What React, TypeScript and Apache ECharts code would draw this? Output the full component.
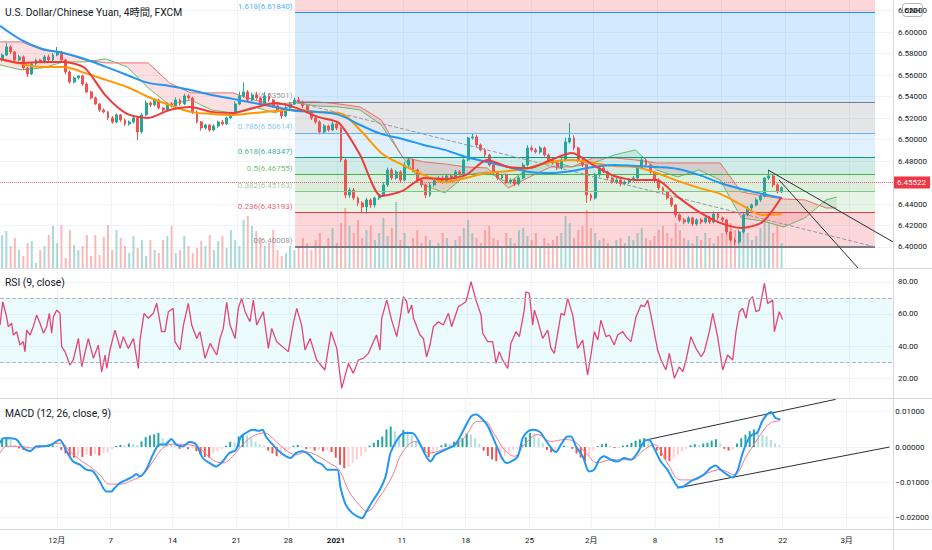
import React, { useEffect, useRef } from "react";
import * as echarts from "echarts";

const FONT = 'Roboto, "Noto Sans CJK JP", sans-serif';

const titleMain = "U.S. Dollar/Chinese Yuan, 4時間, FXCM";
const titleRsi = "RSI (9, close)";
const titleMacd = "MACD (12, 26, close, 9)";

// x is measured in 4-hour bars from the left edge of the chart
const dateTicks = [26.9, 52.4, 81.7, 111.9, 136.5, 159.1, 190.3, 220.5, 250.7, 280.0, 310.2, 340.4, 370.6, 400.9];
const dateLabels = ["12月", "7", "14", "21", "28", "2021", "11", "18", "25", "2月", "8", "15", "22", "3月"];

const priceTicks = [6.4, 6.42, 6.44, 6.46, 6.48, 6.5, 6.52, 6.54, 6.56, 6.58, 6.6, 6.62];
const rsiTicks = [20, 40, 60, 80];
const macdTicks = [-0.02, -0.01, 0, 0.01];

// candles: one candle per 2 bars
const firstOpen = 6.5742;
const closes = [
  6.5788, 6.5863, 6.5816, 6.5742, 6.577, 6.5667, 6.5611, 6.5705, 6.5742, 6.5723,
  6.577, 6.5742, 6.5788, 6.5816, 6.5742, 6.563, 6.5537, 6.5574, 6.5593, 6.5518,
  6.5444, 6.5388, 6.5332, 6.5276, 6.5258, 6.5202, 6.5164, 6.523, 6.5183, 6.5146,
  6.5164, 6.5202, 6.5071, 6.523, 6.5341, 6.5323, 6.5369, 6.5295, 6.5276, 6.5332,
  6.5313, 6.5369, 6.5332, 6.5407, 6.5388, 6.5258, 6.5164, 6.5108, 6.5136, 6.509,
  6.5127, 6.5164, 6.5146, 6.5202, 6.5239, 6.5332, 6.5407, 6.5444, 6.5369, 6.5416,
  6.5388, 6.5332, 6.5407, 6.5369, 6.5313, 6.5276, 6.522, 6.5295, 6.5332, 6.5369,
  6.5351, 6.5313, 6.5258, 6.5202, 6.5164, 6.5071, 6.5127, 6.509, 6.5146, 6.5108,
  6.481, 6.4484, 6.4531, 6.4456, 6.441, 6.4373, 6.4438, 6.4391, 6.4456, 6.4484,
  6.4578, 6.4717, 6.4643, 6.4699, 6.4624, 6.4764, 6.481, 6.4717, 6.4624, 6.4578,
  6.4484, 6.4578, 6.4624, 6.4643, 6.4605, 6.4661, 6.4643, 6.4699, 6.468, 6.481,
  6.5015, 6.5025, 6.495, 6.4904, 6.4857, 6.4764, 6.4699, 6.4643, 6.4671, 6.4605,
  6.4624, 6.4587, 6.4643, 6.4764, 6.4922, 6.4904, 6.4885, 6.4922, 6.4857, 6.481,
  6.4782, 6.4736, 6.481, 6.4978, 6.5015, 6.4922, 6.481, 6.4764, 6.4484, 6.4456,
  6.4671, 6.4736, 6.4699, 6.4643, 6.4605, 6.4624, 6.4587, 6.4605, 6.4624, 6.4643,
  6.4736, 6.481, 6.4764, 6.4699, 6.4624, 6.455, 6.4512, 6.4456, 6.4391, 6.4298,
  6.4252, 6.4233, 6.427, 6.4214, 6.4252, 6.4233, 6.427, 6.4233, 6.4307, 6.427,
  6.4252, 6.414, 6.4065, 6.4047, 6.414, 6.4298, 6.4363, 6.4391, 6.4438, 6.4475,
  6.4643, 6.4661, 6.4578, 6.4512, 6.45522,
];
const upperWickPips = [
  12, 37, 15, 10, 20, 14, 8, 18, 12, 10,
  15, 20, 18, 47, 12, 10, 15, 14, 9, 12,
  16, 10, 12, 8, 14, 10, 18, 12, 9, 15,
  14, 20, 10, 18, 22, 15, 18, 12, 10, 14,
  18, 25, 12, 20, 15, 10, 14, 9, 12, 10,
  15, 12, 18, 14, 20, 25, 40, 90, 18, 22,
  30, 12, 35, 18, 10, 14, 12, 20, 18, 22,
  28, 14, 10, 12, 9, 16, 18, 12, 20, 14,
  10, 15, 22, 18, 12, 14, 20, 16, 12, 18,
  25, 22, 18, 20, 14, 28, 20, 15, 12, 10,
  14, 22, 18, 16, 20, 15, 12, 20, 18, 15,
  10, 37, 20, 14, 16, 12, 18, 10, 14, 12,
  16, 12, 18, 20, 25, 22, 18, 20, 14, 12,
  15, 18, 20, 40, 140, 25, 12, 14, 10, 16,
  20, 18, 22, 12, 14, 18, 12, 16, 14, 18,
  25, 30, 14, 12, 10, 14, 12, 10, 12, 8,
  14, 18, 16, 12, 15, 18, 14, 20, 22, 16,
  14, 10, 12, 18, 20, 22, 18, 14, 20, 16,
  5, 56, 20, 15, 12,
];
const lowerWickPips = [
  15, 10, 18, 12, 14, 20, 28, 10, 15, 12,
  14, 10, 16, 12, 18, 22, 15, 12, 14, 18,
  12, 15, 10, 18, 14, 20, 16, 12, 18, 22,
  15, 12, 74, 14, 10, 18, 12, 15, 20, 12,
  14, 10, 18, 12, 16, 20, 14, 25, 15, 18,
  12, 16, 14, 10, 12, 15, 12, 20, 14, 12,
  18, 22, 12, 16, 20, 14, 25, 12, 16, 10,
  12, 18, 14, 20, 16, 22, 14, 18, 12, 20,
  20, 30, 25, 20, 28, 47, 65, 30, 22, 18,
  14, 18, 20, 16, 22, 12, 18, 20, 25, 22,
  30, 18, 14, 20, 16, 14, 18, 12, 16, 14,
  12, 15, 18, 14, 20, 16, 18, 22, 14, 20,
  18, 22, 16, 12, 14, 18, 15, 20, 16, 18,
  14, 20, 16, 12, 15, 18, 22, 20, 74, 30,
  15, 18, 14, 20, 16, 18, 22, 14, 20, 16,
  12, 14, 18, 16, 20, 18, 22, 16, 20, 25,
  18, 22, 16, 20, 18, 22, 16, 20, 14, 18,
  20, 25, 22, 28, 18, 16, 14, 18, 12, 20,
  14, 18, 22, 15, 10,
];
const volumes = [
  33, 37, 22, 30, 18, 12, 25, 27, 5, 18,
  22, 33, 42, 25, 43, 10, 38, 23, 18, 22,
  33, 12, 33, 13, 31, 43, 18, 38, 30, 22,
  15, 32, 20, 28, 12, 28, 18, 15, 28, 32,
  42, 15, 18, 32, 22, 15, 20, 27, 22, 33,
  18, 27, 32, 20, 38, 28, 22, 48, 52, 42,
  37, 30, 22, 25, 38, 18, 12, 15, 22, 18,
  20, 30, 25, 18, 28, 35, 22, 30, 40, 25,
  45, 60, 42, 35, 48, 30, 38, 42, 28, 35,
  50, 32, 40, 66, 28, 35, 22, 30, 38, 25,
  32, 28, 20, 25, 35, 30, 22, 28, 32, 40,
  48, 35, 30, 25, 38, 42, 30, 28, 22, 35,
  30, 25, 38, 40, 32, 28, 35, 22, 30, 25,
  28, 32, 35, 52, 45, 30, 38, 42, 58, 40,
  35, 28, 30, 25, 22, 28, 30, 25, 32, 28,
  35, 40, 30, 28, 32, 38, 42, 35, 30, 45,
  38, 30, 28, 25, 32, 28, 35, 30, 25, 32,
  35, 40, 45, 38, 30, 42, 35, 28, 32, 40,
  50, 45, 35, 43, 25,
];
const macdHist = [
  0.0025, 0.0028, 0.002, 0.0006, -0.0004, -0.0008, -0.0005, -0.0001, 0.0002, 0.0004,
  0.0003, 0.0004, 0.0005, 0.0003, -0.0008, -0.0018, -0.0026, -0.003, -0.0027, -0.0028,
  -0.0022, -0.0025, -0.002, -0.0024, -0.0018, -0.0015, -0.0006, 0.0003, 0.0006, 0.0005,
  0.001, 0.0008, 0.0006, 0.0016, 0.0028, 0.0033, 0.0036, 0.004, 0.0025, 0.0018,
  0.001, 0.0004, -0.0005, -0.0003, -0.0006, -0.0004, -0.0012, -0.0022, -0.0028, -0.003,
  -0.0018, -0.0012, -0.0006, 0.0004, 0.0015, 0.0013, 0.003, 0.0036, 0.0034, 0.0025,
  0.0015, 0.0008, 0.0004, -0.001, -0.0018, -0.0026, -0.0025, -0.0015, -0.0008, 0.0004,
  0.0006, 0.0002, -0.0006, -0.0005, -0.001, -0.0008, -0.0012, -0.0009, -0.0014, -0.003,
  -0.005, -0.006, -0.0055, -0.0045, -0.0035, -0.0026, -0.0015, 0.0004, 0.0012, 0.002,
  0.003, 0.005, 0.0058, 0.0045, 0.003, 0.0048, 0.0045, 0.0035, 0.0018, 0.0008,
  -0.0015, -0.0028, -0.002, -0.0008, 0.0005, 0.001, 0.0008, 0.0015, 0.0018, 0.0025,
  0.0038, 0.0035, 0.0025, 0.001, -0.001, -0.0025, -0.0035, -0.004, -0.0036, -0.0025,
  -0.0015, -0.0008, -0.0005, 0.001, 0.0028, 0.004, 0.0038, 0.0025, 0.0012, -0.0008,
  -0.0015, -0.0012, -0.0004, 0.0004, 0.0002, -0.0005, -0.0018, -0.003, -0.004, -0.0025,
  -0.001, 0.0003, 0.0008, 0.001, 0.0004, -0.0003, -0.0002, 0.0004, 0.0006, 0.0012,
  0.0018, 0.0022, 0.0025, 0.0018, 0.0006, -0.001, -0.0025, -0.0035, -0.004, -0.0032,
  -0.0022, -0.0012, -0.0005, 0.0005, 0.0008, 0.0006, 0.001, 0.0012, 0.0018, 0.0022,
  0.001, -0.0005, -0.001, -0.0008, 0.001, 0.0025, 0.0035, 0.0045, 0.005, 0.0042,
  0.0035, 0.003, 0.002, 0.001, 0.0005,
];

// moving averages sampled every 10 bars
const maStepBars = 10;
const maRed = [
  6.5751, 6.5714, 6.5723, 6.5723, 6.5667, 6.5407, 6.5239, 6.5202, 6.5276, 6.5304,
  6.5258, 6.5248, 6.5295, 6.5341, 6.5295, 6.5211, 6.5155, 6.4857, 6.4475, 6.4522,
  6.4643, 6.4633, 6.4671, 6.481, 6.4745, 6.4736, 6.481, 6.4876, 6.4764, 6.4661,
  6.4624, 6.4624, 6.4466, 6.4326, 6.4224, 6.4177, 6.4233, 6.4466,
];
const maOrange = [
  6.5751, 6.5705, 6.5677, 6.5677, 6.5621, 6.5556, 6.549, 6.5397, 6.5323, 6.5258,
  6.5239, 6.523, 6.5248, 6.5267, 6.5276, 6.5258, 6.5248, 6.509, 6.4876, 6.4764,
  6.4671, 6.4605, 6.4643, 6.4689, 6.4708, 6.4736, 6.4792, 6.481, 6.4782, 6.4755,
  6.4745, 6.4689, 6.4615, 6.455, 6.4494, 6.4391, 6.4298, 6.4307,
];
const maBlue = [
  6.6059, 6.5928, 6.5844, 6.5807, 6.5751, 6.5677, 6.5602, 6.5528, 6.55, 6.5462,
  6.5416, 6.5379, 6.5341, 6.5304, 6.5267, 6.5258, 6.523, 6.5136, 6.5053, 6.5006,
  6.495, 6.4904, 6.4838, 6.4792, 6.4745, 6.4699, 6.4689, 6.4708, 6.4745, 6.4764,
  6.4755, 6.4745, 6.4727, 6.4671, 6.4596, 6.454, 6.4494, 6.4456,
];
// ichimoku cloud spans, every 10 bars, last point at cloudEndBar
const spanA = [
  6.5695, 6.5649, 6.5667, 6.5723, 6.5723, 6.5751, 6.5677, 6.5481, 6.5323, 6.5369,
  6.5276, 6.5248, 6.5304, 6.5248, 6.5341, 6.5313, 6.5304, 6.5276, 6.5136, 6.4838,
  6.4578, 6.4503, 6.4671, 6.4699, 6.4596, 6.4745, 6.4801, 6.4745, 6.4782, 6.4857,
  6.4904, 6.4717, 6.4652, 6.4717, 6.4624, 6.427, 6.4242, 6.4186, 6.427, 6.4438,
  6.4466,
];
const spanB = [
  6.591, 6.591, 6.5835, 6.5807, 6.5742, 6.5714, 6.5714, 6.5714, 6.5528, 6.5435,
  6.5435, 6.5435, 6.5369, 6.5323, 6.5351, 6.5351, 6.5332, 6.5304, 6.5183, 6.4838,
  6.4792, 6.4773, 6.4745, 6.4736, 6.455, 6.4652, 6.4745, 6.4745, 6.4829, 6.4829,
  6.481, 6.4782, 6.4782, 6.4782, 6.4782, 6.4512, 6.4475, 6.4447, 6.4438, 6.4363,
  6.4363,
];
const cloudEndBar = 395;

const rsiPoints = [
  [0, 53.1], [1.3, 67.6], [3.1, 58.3], [3.9, 52.1], [5.5, 54.2], [6.3, 46.9], [7.9, 49.0], [9.4, 40.7], [11.0, 42.8], [11.8, 36.5],
  [12.6, 50.0], [14.2, 46.9], [15.7, 52.1], [17.3, 59.3], [18.9, 54.2], [20.5, 48.0], [22.0, 52.1], [23.3, 60.4], [24.4, 48.0], [25.2, 58.3],
  [26.8, 62.4], [28.3, 60.4], [29.1, 39.7], [30.7, 36.6], [33.0, 28.3], [34.6, 31.4], [37.0, 44.8], [38.6, 27.2], [41.7, 44.8], [44.1, 32.4],
  [46.4, 40.7], [48.0, 24.1], [49.6, 34.5], [50.4, 26.2], [51.9, 37.6], [54.3, 50.0], [56.7, 38.6], [58.2, 45.9], [60.6, 38.6], [63.0, 44.8],
  [65.3, 26.2], [66.1, 43.8], [68.0, 60.4], [70.0, 57.3], [72.4, 60.4], [74.0, 66.6], [76.3, 49.0], [77.9, 49.0], [79.5, 61.4], [81.8, 63.5],
  [82.6, 42.8], [85.0, 37.6], [86.6, 53.1], [88.9, 66.6], [90.5, 53.1], [92.9, 44.8], [94.4, 49.0], [96.8, 32.4], [99.2, 41.7], [102.3, 34.5],
  [103.9, 44.8], [105.4, 51.0], [107.0, 67.2], [108.6, 53.1], [111.0, 44.8], [112.5, 63.5], [114.1, 69.7], [115.7, 61.4], [118.0, 55.2], [119.6, 68.6],
  [121.2, 53.1], [124.3, 61.4], [126.7, 38.6], [128.3, 51.0], [130.6, 42.8], [136.1, 36.6], [138.5, 54.2], [140.1, 63.5], [142.4, 53.1], [144.0, 37.6],
  [146.4, 44.8], [149.5, 31.4], [153.4, 25.2], [156.3, 49.0], [159.0, 38.6], [161.3, 13.8], [164.5, 29.3], [166.8, 23.1], [169.2, 31.4], [171.5, 32.4],
  [173.9, 35.5], [176.3, 42.8], [177.8, 46.9], [179.4, 37.6], [180.2, 57.3], [182.6, 68.6], [184.9, 56.2], [187.3, 45.9], [188.9, 57.3], [190.4, 70.7],
  [192.0, 67.6], [192.8, 60.4], [194.4, 65.5], [195.2, 57.3], [198.3, 46.9], [199.9, 44.8], [201.4, 33.4], [203.0, 40.7], [204.6, 52.1], [207.0, 55.2],
  [209.3, 53.1], [211.7, 60.4], [213.2, 52.1], [216.4, 64.5], [220.0, 67.6], [222.4, 80.0], [224.7, 68.6], [227.1, 59.3], [227.9, 48.0], [230.2, 42.8],
  [232.6, 42.8], [234.2, 29.3], [235.7, 36.6], [237.3, 31.4], [239.7, 26.2], [241.2, 41.7], [243.6, 49.0], [245.2, 45.9], [247.5, 62.4], [248.3, 73.8],
  [249.9, 72.8], [251.5, 53.1], [252.3, 62.4], [253.8, 56.2], [256.2, 44.8], [258.6, 50.0], [260.1, 38.6], [261.7, 35.5], [264.9, 60.4], [266.4, 59.3],
  [268.0, 69.7], [270.4, 59.3], [272.7, 38.6], [275.1, 43.8], [277.4, 22.1], [279.0, 34.5], [280.6, 49.0], [282.2, 43.8], [283.7, 56.2], [286.1, 45.9],
  [287.7, 46.9], [290.0, 40.7], [291.6, 46.9], [294.0, 49.0], [295.5, 45.9], [297.9, 42.8], [300.3, 58.3], [302.6, 65.5], [304.2, 64.5], [305.8, 68.6],
  [307.3, 59.3], [310.5, 37.6], [312.1, 31.4], [314.4, 25.2], [316.0, 35.5], [318.4, 20.0], [320.7, 27.2], [322.3, 24.1], [323.9, 31.4], [326.2, 45.9],
  [328.6, 38.6], [331.0, 33.4], [332.5, 36.6], [334.9, 49.0], [336.5, 60.4], [338.8, 45.9], [341.2, 25.2], [343.5, 34.5], [345.9, 31.4], [347.5, 49.0],
  [349.1, 61.4], [350.6, 63.5], [352.2, 57.3], [353.8, 68.6], [355.3, 70.7], [356.9, 61.4], [358.5, 62.4], [360.9, 79.0], [362.4, 66.6], [364.8, 68.6],
  [365.6, 49.0], [367.9, 61.4], [369.5, 56.6],
];

const macdLine = [
  [0, 0.0011], [1.6, 0.0025], [4.7, 0.0025], [7.9, 0.0021], [11.0, -0.0003], [14.2, -0.0012], [17.3, 0.0002], [20.5, 0.0002], [23.6, 0.0005], [26.8, 0.0016],
  [28.3, 0.0021], [31.5, -0.0012], [34.6, -0.0041], [37.8, -0.005], [40.9, -0.0064], [44.1, -0.0069], [47.2, -0.0097], [50.4, -0.0126], [52.7, -0.0126], [54.3, -0.0116],
  [56.7, -0.0102], [59.8, -0.0093], [63.0, -0.0083], [64.5, -0.0076], [66.1, -0.0083], [69.2, -0.0064], [72.4, -0.0022], [75.5, 0.0007], [78.7, 0.0008], [81.1, 0.0023],
  [83.4, 0.0007], [86.6, 0.0002], [89.7, 0.0014], [92.9, 0.0007], [96.0, -0.0031], [99.2, -0.0045], [102.3, -0.0055], [105.4, -0.0041], [108.6, -0.0017], [111.7, -0.0008],
  [114.1, 0.003], [116.5, 0.004], [119.6, 0.0049], [122.8, 0.0046], [124.3, 0.0049], [125.9, 0.003], [129.1, 0.0007], [132.2, -0.0012], [135.3, -0.0026], [137.7, -0.0031],
  [140.1, -0.0017], [143.2, -0.0012], [146.4, -0.0022], [149.5, -0.0041], [152.7, -0.005], [155.0, -0.0064], [157.4, -0.0064], [159.7, -0.0064], [161.3, -0.0116], [163.7, -0.0163],
  [166.8, -0.0187], [169.2, -0.0196], [171.5, -0.0201], [173.1, -0.0187], [176.3, -0.0154], [179.4, -0.0126], [182.6, -0.0083], [184.9, -0.0017], [188.1, 0.0021], [191.2, 0.004],
  [195.2, 0.004], [198.3, 0.0016], [201.4, -0.0022], [203.8, -0.0041], [206.2, -0.0022], [209.3, -0.0012], [212.5, -0.0003], [215.6, 0.0007], [218.8, 0.004], [220.0, 0.0054],
  [223.1, 0.0087], [225.5, 0.0092], [227.9, 0.0082], [231.0, 0.0059], [234.2, 0.0016], [237.3, -0.0026], [239.7, -0.0045], [242.0, -0.0041], [245.2, -0.0026], [247.5, 0.0025],
  [249.9, 0.0044], [252.3, 0.0049], [255.4, 0.0044], [257.8, 0.0025], [261.7, -0.0008], [263.3, -0.0014], [265.6, 0.0007], [268.8, 0.003], [270.4, 0.003], [272.7, 0.0002],
  [275.9, -0.0026], [279.0, -0.0069], [281.4, -0.0064], [283.7, -0.0036], [286.1, -0.0026], [289.2, -0.0036], [292.4, -0.0041], [295.5, -0.0031], [298.7, -0.0036], [301.8, -0.0017],
  [305.0, 0.0016], [307.3, 0.0021], [309.7, -0.0003], [312.9, -0.0041], [316.0, -0.0064], [319.2, -0.0097], [321.5, -0.0114], [323.9, -0.0111], [327.0, -0.0097], [330.2, -0.0088],
  [333.3, -0.0078], [336.5, -0.0059], [338.8, -0.0052], [341.2, -0.0064], [344.3, -0.0078], [346.7, -0.0086], [349.1, -0.0069], [351.4, -0.0022], [353.8, 0.0016], [356.1, 0.0035],
  [358.5, 0.004], [360.9, 0.0073], [363.2, 0.0092], [365.1, 0.0099], [367.2, 0.0082], [369.5, 0.0079],
];
const signalLine = [
  [0, -0.0017], [3.1, 0.0002], [9.4, 0.0002], [15.7, -0.0003], [23.6, 0.0007], [29.1, 0.0011], [33.0, -0.0012], [37.8, -0.0036], [42.5, -0.0055], [47.2, -0.0078],
  [51.9, -0.0105], [56.7, -0.0105], [63.0, -0.0093], [67.7, -0.0078], [72.4, -0.0041], [77.1, -0.0003], [81.8, 0.0008], [88.1, 0.0007], [94.4, -0.0003], [100.7, -0.0036],
  [105.4, -0.0045], [110.2, -0.0026], [114.9, 0.0007], [119.6, 0.003], [125.1, 0.004], [130.6, 0.0016], [135.3, -0.0008], [140.1, -0.0022], [144.8, -0.0014], [149.5, -0.0022],
  [155.8, -0.0045], [160.5, -0.0064], [165.3, -0.0126], [170.0, -0.0163], [173.9, -0.0182], [179.4, -0.0144], [185.7, -0.0083], [190.4, -0.0017], [196.7, 0.0016], [203.0, -0.0017],
  [209.3, -0.0008], [215.6, 0.0007], [220.0, 0.0028], [226.3, 0.0073], [229.4, 0.0073], [234.2, 0.0035], [238.9, -0.0008], [243.6, -0.0026], [248.3, 0.0007], [254.6, 0.0035],
  [260.9, 0.0016], [267.2, 0.0021], [271.9, 0.0016], [278.2, -0.0022], [283.0, -0.0045], [289.2, -0.0036], [298.7, -0.0036], [305.0, -0.0008], [309.7, 0.0007], [316.0, -0.0045],
  [322.3, -0.0093], [328.6, -0.0093], [334.9, -0.0074], [341.2, -0.0064], [347.5, -0.0078], [353.8, -0.0022], [360.1, 0.0035], [364.8, 0.0068], [369.5, 0.0074],
];

const fibRatios = ["0", "0.236", "0.382", "0.5", "0.618", "0.786", "1", "1.618"];
const fibPrices = [6.40008, 6.43193, 6.45163, 6.46755, 6.48347, 6.50614, 6.53501, 6.6184];
const fibColors = ["#787b86", "#f23645", "#81c784", "#4caf50", "#089981", "#64b5f6", "#787b86", "#2196f3"];
const fibTopColor = "#f23645";
const fibStartBar = 139.3;
const fibEndBar = 413.1;

const trendMain = [
  [[362.6, 6.4717], [421.6, 6.4047]],
  [[367.8, 6.4624], [405.1, 6.3804]],
];
const trendMacd = [
  [[307.4, 0.0022], [395.7, 0.0135]],
  [[320.6, -0.0116], [421.2, 0.0]],
];

const X_MAX = 421.6;
const PRICE_MIN = 6.3804;
const PRICE_MAX = 6.63;

const UP = "#26a69a";
const DOWN = "#ef5350";
const TXT = "#131722";
const GRIDLINE = "#f0f3fa";
const CLOUD_UP = "rgba(76,175,80,0.16)";
const CLOUD_DOWN = "rgba(242,54,69,0.16)";

function rgba(hex: string, a: number) {
  const n = parseInt(hex.slice(1), 16);
  return `rgba(${(n >> 16) & 255},${(n >> 8) & 255},${n & 255},${a})`;
}

function buildOption() {
  const barOf = (i: number) => 2 * i + 1;
  const candleData = closes.map((c, i) => {
    const o = i === 0 ? firstOpen : closes[i - 1];
    const hi = Math.max(o, c) + upperWickPips[i] * 1e-4;
    const lo = Math.min(o, c) - lowerWickPips[i] * 1e-4;
    return [barOf(i), o, c, lo, hi];
  });
  const volData = volumes.map((v, i) => {
    const o = i === 0 ? firstOpen : closes[i - 1];
    const up = closes[i] >= o;
    return { value: [barOf(i), v], itemStyle: { color: up ? rgba(UP, 0.4) : rgba(DOWN, 0.4) } };
  });
  const histData = macdHist.map((h, i) => {
    const prev = i === 0 ? h : macdHist[i - 1];
    let color;
    if (h >= 0) color = h >= prev ? UP : "#b2dfdb";
    else color = h <= prev ? DOWN : "#ffcdd2";
    return { value: [barOf(i), h], itemStyle: { color } };
  });
  const lastBar = barOf(closes.length - 1);
  const maPts = (arr: number[]) => arr.map((v, k) => [Math.min(k * maStepBars, lastBar), v]);
  const cloudBar = (k: number) => (k === spanA.length - 1 ? cloudEndBar : k * maStepBars);
  const lastClose = closes[closes.length - 1];
  const cloudSegs = spanA.slice(0, -1).map((a, k) => [cloudBar(k), a, spanB[k], cloudBar(k + 1), spanA[k + 1], spanB[k + 1]]);

  const fibBands: any[] = [];
  for (let i = 0; i < fibPrices.length - 1; i++) {
    fibBands.push([
      { coord: [fibStartBar, fibPrices[i]], itemStyle: { color: rgba(fibColors[i + 1], 0.2) } },
      { coord: [fibEndBar, fibPrices[i + 1]] },
    ]);
  }
  fibBands.push([
    { coord: [fibStartBar, fibPrices[fibPrices.length - 1]], itemStyle: { color: rgba(fibTopColor, 0.2) } },
    { coord: [fibEndBar, PRICE_MAX] },
  ]);
  const fibLines: any[] = fibPrices.map((p, i) => [
    { coord: [fibStartBar, p], lineStyle: { color: fibColors[i], width: i === 0 ? 2 : 1, type: "solid" } },
    { coord: [fibEndBar, p] },
  ]);
  fibLines.push([
    { coord: [fibStartBar, fibPrices[6]], lineStyle: { color: "#9598a1", width: 1, type: "dashed" } },
    { coord: [fibEndBar, fibPrices[0]] },
  ]);

  const xBase = (gridIndex: number, split: boolean) => ({
    type: "value",
    gridIndex,
    min: 0,
    max: X_MAX,
    axisLine: { show: false },
    axisTick: { show: false, customValues: dateTicks },
    axisLabel: { show: false, customValues: dateTicks },
    splitLine: { show: split, lineStyle: { color: GRIDLINE, width: 1 } },
  });
  const yLabel = (fmt: (v: number) => string) => ({
    show: true,
    color: TXT,
    fontSize: 8,
    fontFamily: FONT,
    margin: 5,
    formatter: fmt,
  });

  const xMacd: any = xBase(3, true);
  xMacd.axisLabel = {
    show: true,
    customValues: dateTicks,
    color: TXT,
    fontSize: 8,
    fontFamily: FONT,
    margin: 7,
    formatter: (v: number) => {
      let idx = 0;
      let best = Infinity;
      dateTicks.forEach((t, i) => {
        if (Math.abs(t - v) < best) {
          best = Math.abs(t - v);
          idx = i;
        }
      });
      const s = dateLabels[idx];
      return s === "2021" ? `{b|${s}}` : s;
    },
    rich: { b: { fontWeight: "bold", fontSize: 8, color: TXT, fontFamily: FONT } },
  };

  const noLine = { opacity: 0, width: 0 };
  const titleStyle = { fontSize: 10.3, fontWeight: "normal", color: TXT, fontFamily: FONT };

  return {
    animation: false,
    backgroundColor: "#ffffff",
    textStyle: { fontFamily: FONT },
    title: [
      { text: titleMain, left: 5, top: 7, padding: 0, textStyle: titleStyle, z: 20 },
      { text: titleRsi, left: 5, top: 277, padding: 0, textStyle: titleStyle, z: 20 },
      { text: titleMacd, left: 5, top: 408, padding: 0, textStyle: titleStyle, z: 20 },
    ],
    grid: [
      { left: 0, top: 0, width: 893, height: 268 },
      { left: 0, top: 188, width: 893, height: 80 },
      { left: 0, top: 270, width: 893, height: 128 },
      { left: 0, top: 399, width: 893, height: 130 },
    ],
    xAxis: [xBase(0, true), xBase(1, false), xBase(2, true), xMacd],
    yAxis: [
      {
        type: "value",
        gridIndex: 0,
        position: "right",
        min: PRICE_MIN,
        max: PRICE_MAX,
        axisLine: { show: false },
        axisTick: { show: false, customValues: priceTicks },
        axisLabel: { ...yLabel((v: number) => v.toFixed(5)), customValues: priceTicks },
        splitLine: { show: true, lineStyle: { color: GRIDLINE } },
      },
      {
        type: "value",
        gridIndex: 1,
        min: 0,
        max: 80,
        show: false,
        splitLine: { show: false },
      },
      {
        type: "value",
        gridIndex: 2,
        position: "right",
        min: 7.8,
        max: 87.3,
        axisLine: { show: false },
        axisTick: { show: false, customValues: rsiTicks },
        axisLabel: { ...yLabel((v: number) => v.toFixed(2)), customValues: rsiTicks },
        splitLine: { show: true, lineStyle: { color: GRIDLINE } },
      },
      {
        type: "value",
        gridIndex: 3,
        position: "right",
        min: -0.0232,
        max: 0.0136,
        axisLine: { show: false },
        axisTick: { show: false, customValues: macdTicks },
        axisLabel: {
          ...yLabel((v: number) => (v < -1e-9 ? "\u2212" : "") + Math.abs(v).toFixed(5)),
          customValues: macdTicks,
        },
        splitLine: { show: true, lineStyle: { color: GRIDLINE } },
      },
    ],
    series: [
      {
        name: "fib",
        type: "line",
        xAxisIndex: 0,
        yAxisIndex: 0,
        data: [[fibStartBar, fibPrices[0]]],
        symbol: "none",
        lineStyle: noLine,
        silent: true,
        z: 1,
        markArea: { silent: true, data: fibBands },
        markLine: { silent: true, symbol: ["none", "none"], label: { show: false }, data: fibLines },
      },
      {
        name: "cloud",
        type: "custom",
        xAxisIndex: 0,
        yAxisIndex: 0,
        silent: true,
        z: 2,
        encode: { x: [0, 3], y: [1, 2, 4, 5] },
        data: cloudSegs,
        renderItem: (_params: any, api: any) => {
          const x0 = api.value(0);
          const a0 = api.value(1);
          const b0 = api.value(2);
          const x1 = api.value(3);
          const a1 = api.value(4);
          const b1 = api.value(5);
          const d0 = a0 - b0;
          const d1 = a1 - b1;
          const P = (x: number, y: number) => api.coord([x, y]);
          const children: any[] = [];
          if (d0 * d1 >= 0) {
            children.push({
              type: "polygon",
              shape: { points: [P(x0, a0), P(x1, a1), P(x1, b1), P(x0, b0)] },
              style: { fill: d0 + d1 >= 0 ? CLOUD_UP : CLOUD_DOWN },
            });
          } else {
            const t = d0 / (d0 - d1);
            const xc = x0 + t * (x1 - x0);
            const yc = a0 + t * (a1 - a0);
            children.push({
              type: "polygon",
              shape: { points: [P(x0, a0), P(xc, yc), P(x0, b0)] },
              style: { fill: d0 > 0 ? CLOUD_UP : CLOUD_DOWN },
            });
            children.push({
              type: "polygon",
              shape: { points: [P(xc, yc), P(x1, a1), P(x1, b1)] },
              style: { fill: d1 > 0 ? CLOUD_UP : CLOUD_DOWN },
            });
          }
          return { type: "group", children };
        },
      },
      {
        name: "volume",
        type: "bar",
        xAxisIndex: 1,
        yAxisIndex: 1,
        barWidth: 2,
        silent: true,
        z: 2,
        data: volData,
      },
      {
        name: "spanA",
        type: "line",
        xAxisIndex: 0,
        yAxisIndex: 0,
        symbol: "none",
        silent: true,
        z: 3,
        lineStyle: { color: "#66bb6a", width: 1 },
        data: spanA.map((a, k) => [cloudBar(k), a]),
      },
      {
        name: "spanB",
        type: "line",
        xAxisIndex: 0,
        yAxisIndex: 0,
        symbol: "none",
        silent: true,
        z: 3,
        lineStyle: { color: "#f26b6b", width: 1 },
        data: spanB.map((b, k) => [cloudBar(k), b]),
      },
      {
        name: "candles",
        type: "candlestick",
        xAxisIndex: 0,
        yAxisIndex: 0,
        barWidth: 2.4,
        silent: true,
        z: 4,
        encode: { x: 0, y: [1, 2, 3, 4] },
        itemStyle: { color: UP, color0: DOWN, borderColor: UP, borderColor0: DOWN, borderWidth: 1 },
        data: candleData,
        markLine: {
          silent: true,
          symbol: ["none", "none"],
          data: [
            {
              yAxis: lastClose,
              lineStyle: { color: "rgba(242,54,69,0.7)", type: "dotted", width: 1 },
              label: {
                show: true,
                position: "end",
                distance: 0,
                formatter: lastClose.toFixed(5),
                color: "#ffffff",
                backgroundColor: "#f23645",
                padding: [2, 4, 2, 4],
                fontSize: 8,
                fontFamily: FONT,
              },
            },
            ...trendMain.map((seg) => [
              { coord: seg[0], lineStyle: { color: "#2a2e39", width: 1, type: "solid" }, label: { show: false } },
              { coord: seg[1] },
            ]),
          ],
        },
      },
      {
        name: "maOrange",
        type: "line",
        xAxisIndex: 0,
        yAxisIndex: 0,
        symbol: "none",
        smooth: 0.35,
        silent: true,
        z: 5,
        lineStyle: { color: "#ff9800", width: 2 },
        data: maPts(maOrange),
      },
      {
        name: "maBlue",
        type: "line",
        xAxisIndex: 0,
        yAxisIndex: 0,
        symbol: "none",
        smooth: 0.35,
        silent: true,
        z: 5,
        lineStyle: { color: "#2196f3", width: 2 },
        data: maPts(maBlue),
      },
      {
        name: "maRed",
        type: "line",
        xAxisIndex: 0,
        yAxisIndex: 0,
        symbol: "none",
        smooth: 0.25,
        silent: true,
        z: 5,
        lineStyle: { color: "#f03a3a", width: 2 },
        data: maPts(maRed),
      },
      {
        name: "fibLabels",
        type: "scatter",
        xAxisIndex: 0,
        yAxisIndex: 0,
        symbolSize: 1,
        itemStyle: { color: "rgba(0,0,0,0)" },
        silent: true,
        z: 8,
        data: fibPrices.map((p, i) => ({
          value: [fibStartBar, p],
          label: {
            show: true,
            position: "left",
            distance: 2,
            offset: [0, -6],
            color: fibColors[i],
            fontSize: 8,
            fontFamily: FONT,
            formatter: `${fibRatios[i]}(${p.toFixed(5)})`,
          },
        })),
      },
      {
        name: "rsi",
        type: "line",
        xAxisIndex: 2,
        yAxisIndex: 2,
        symbol: "none",
        silent: true,
        z: 4,
        lineStyle: { color: "#e2457a", width: 1.3 },
        data: rsiPoints,
        markArea: {
          silent: true,
          itemStyle: { color: "rgba(0,188,212,0.08)" },
          data: [[{ coord: [0, 30] }, { coord: [X_MAX, 70] }]],
        },
        markLine: {
          silent: true,
          symbol: ["none", "none"],
          label: { show: false },
          lineStyle: { color: "#b2b5be", type: "dashed", width: 1 },
          data: [{ yAxis: 70 }, { yAxis: 30 }],
        },
      },
      {
        name: "hist",
        type: "bar",
        xAxisIndex: 3,
        yAxisIndex: 3,
        barWidth: 2,
        silent: true,
        z: 2,
        data: histData,
      },
      {
        name: "signal",
        type: "line",
        xAxisIndex: 3,
        yAxisIndex: 3,
        symbol: "none",
        smooth: 0.4,
        silent: true,
        z: 4,
        lineStyle: { color: "#ef7a8f", width: 1 },
        data: signalLine,
      },
      {
        name: "macd",
        type: "line",
        xAxisIndex: 3,
        yAxisIndex: 3,
        symbol: "none",
        smooth: 0.3,
        silent: true,
        z: 5,
        lineStyle: { color: "#2196f3", width: 2 },
        data: macdLine,
        markLine: {
          silent: true,
          symbol: ["none", "none"],
          label: { show: false },
          data: trendMacd.map((seg) => [
            { coord: seg[0], lineStyle: { color: "#2a2e39", width: 1, type: "solid" } },
            { coord: seg[1] },
          ]),
        },
      },
    ],
    graphic: [
      { type: "line", silent: true, z: 50, shape: { x1: 0, y1: 268.5, x2: 932, y2: 268.5 }, style: { stroke: "#d6d8de", lineWidth: 1 } },
      { type: "line", silent: true, z: 50, shape: { x1: 0, y1: 398.5, x2: 932, y2: 398.5 }, style: { stroke: "#d6d8de", lineWidth: 1 } },
      { type: "line", silent: true, z: 50, shape: { x1: 0, y1: 529.5, x2: 932, y2: 529.5 }, style: { stroke: "#d6d8de", lineWidth: 1 } },
      { type: "line", silent: true, z: 50, shape: { x1: 893.5, y1: 0, x2: 893.5, y2: 550 }, style: { stroke: "#d6d8de", lineWidth: 1 } },
      {
        type: "group",
        z: 60,
        silent: true,
        children: [
          { type: "rect", shape: { x: 902.5, y: 3.5, width: 20, height: 13, r: 3 }, style: { fill: "#ffffff", stroke: "#b2b5be", lineWidth: 1 } },
          { type: "text", x: 912.5, y: 10, style: { text: "CNH", fill: TXT, fontSize: 8, fontFamily: FONT, align: "center", verticalAlign: "middle" } },
        ],
      },
    ],
  };
}

export default function App() {
  const ref = useRef<HTMLDivElement>(null);
  useEffect(() => {
    if (!ref.current) return;
    const chart = echarts.init(ref.current, null, { renderer: "svg" });
    chart.setOption(buildOption() as any);
    return () => chart.dispose();
  }, []);
  return (
    <div
      ref={ref}
      style={{ position: "fixed", left: 0, top: 0, width: 932, height: 550, background: "#ffffff" }}
    />
  );
}
